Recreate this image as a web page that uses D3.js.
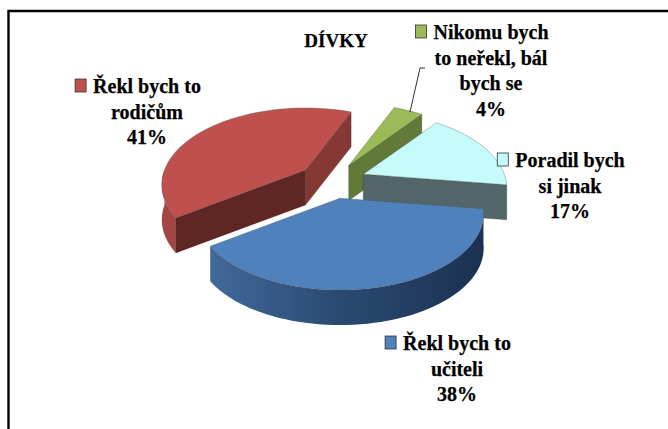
<!DOCTYPE html>
<html>
<head>
<meta charset="utf-8">
<script src="https://cdn.jsdelivr.net/npm/d3@7"></script>
<style>
  html, body { margin: 0; background: #fff; }
  text { font-family: "Liberation Serif", serif; font-weight: bold; fill: #000; stroke: #000; stroke-width: 0.25; }
</style>
</head>
<body>
<div id="chart"></div>
<script>
// Chart values, in pie order (clockwise from the first slice)
const categories = ['Řekl bych to učiteli', 'Řekl bych to rodičům', 'Nikomu bych to neřekl, bál bych se', 'Poradil bych si jinak'];
const values = [38, 41, 4, 17];
const topColors = ['#4f81bd', '#c0504d', '#9bbb59', '#c6fbfb'];
const cutColors = ['#2a4a72', '#5f2623', '#617a38', '#52666a'];
const sideColors = ['#2a4a72', '#863835', '#617a38', '#52666a'];
const labelLines = [
    ['Řekl bych to', 'učiteli', '38%'],
    ['Řekl bych to', 'rodičům', '41%'],
    ['Nikomu bych', 'to neřekl, bál', 'bych se', '4%'],
    ['Poradil bych', 'si jinak', '17%']
];
const labelPos = [[457, 350], [147, 93], [491, 39], [570, 167]];
const titleText = 'DÍVKY';

const width = 668, height = 429;

// Pie geometry
const cx = 332, cy = 181;
const rx = 141, ry = 74;
const persp = 0.194;      // back of the pie is smaller than the front
const explode = 0.24;
const depth = 35;
const rad = Math.PI / 180;

const svg = d3.select('#chart').append('svg')
    .attr('width', width)
    .attr('height', height)
    .style('display', 'block');

// Frame runs off the right and bottom edges
svg.append('path')
    .attr('d', `M${width},11H8.5V${height}`)
    .attr('fill', 'none')
    .attr('stroke', '#000')
    .attr('stroke-width', 2.4);

const pie = d3.pie().sort(null).startAngle(98 * rad).endAngle(458 * rad);
const arcs = pie(values);

// Angle to screen offset, with perspective
const project = (a, r = 1) => {
    const X = Math.sin(a) * r, Y = -Math.cos(a) * r;
    const w = 1 / (1 - persp * Y);
    return [rx * X * w, ry * Y * w];
};
const line = d3.line();
const arcPoints = (a0, a1) => d3.range(0, 61).map(i => project(a0 + (a1 - a0) * i / 60));
const down = pts => pts.map(p => [p[0], p[1] + depth]).reverse();

const defs = svg.append('defs');
const blueGrad = defs.append('linearGradient').attr('id', 'blueSide');
[['0%', '#41699b'], ['45%', '#2b4b74'], ['100%', '#1b3150']].forEach(s =>
    blueGrad.append('stop').attr('offset', s[0]).attr('stop-color', s[1]));

// Back slices first, so the nearer ones overlap them
const order = [2, 3, 1, 0];
order.forEach(i => {
    const d = arcs[i];
    const mid = (d.startAngle + d.endAngle) / 2;
    const g = svg.append('g').attr('transform',
        `translate(${cx + rx * explode * Math.sin(mid)},${cy - ry * explode * Math.cos(mid)})`);

    // Outer wall, only the front half of the circle is visible
    const a0 = Math.max(d.startAngle, 90 * rad), a1 = Math.min(d.endAngle, 270 * rad);
    if (a1 > a0) {
        const pts = arcPoints(a0, a1);
        g.append('path')
            .attr('d', line(pts.concat(down(pts))) + 'Z')
            .attr('fill', i === 0 ? 'url(#blueSide)' : i === 1 ? '#a34643' : sideColors[i]);
    }

    // Cut faces that look towards the viewer
    [[d.startAngle, d.startAngle - 90 * rad, cutColors[i]], [d.endAngle, d.endAngle + 90 * rad, sideColors[i]]].forEach(f => {
        if (-Math.cos(f[1]) <= 0) return;
        const pts = [[0, 0], project(f[0])];
        g.append('path')
            .attr('d', line(pts.concat(down(pts))) + 'Z')
            .attr('fill', f[2])
            .attr('stroke', '#222')
            .attr('stroke-opacity', 0.5)
            .attr('stroke-width', 0.5);
    });

    // Top face
    g.append('path')
        .attr('d', line([[0, 0]].concat(arcPoints(d.startAngle, d.endAngle))) + 'Z')
        .attr('fill', topColors[i])
        .attr('stroke', '#555')
        .attr('stroke-opacity', 0.6)
        .attr('stroke-width', 0.6);
});

// Leader line of the small slice
svg.append('path')
    .attr('d', 'M425,68H420L410,112')
    .attr('fill', 'none')
    .attr('stroke', '#000')
    .attr('stroke-width', 0.8);

svg.append('text')
    .attr('x', 336)
    .attr('y', 47)
    .attr('text-anchor', 'middle')
    .attr('font-size', 19)
    .text(titleText);

// Data labels with a small legend key in front of the first line
labelLines.forEach((lines, i) => {
    const g = svg.append('g').attr('transform', `translate(${labelPos[i][0]},${labelPos[i][1]})`);
    const t = g.selectAll('text').data(lines).enter().append('text')
        .attr('y', (d, j) => j * 25.5)
        .attr('text-anchor', 'middle')
        .attr('font-size', 20)
        .text(d => d);
    const w = t.nodes()[0].getComputedTextLength();
    g.append('rect')
        .attr('x', -w / 2 - 18)
        .attr('y', -14)
        .attr('width', 11)
        .attr('height', 13)
        .attr('fill', topColors[i])
        .attr('stroke', '#333')
        .attr('stroke-width', 0.8);
});
</script>
</body>
</html>
